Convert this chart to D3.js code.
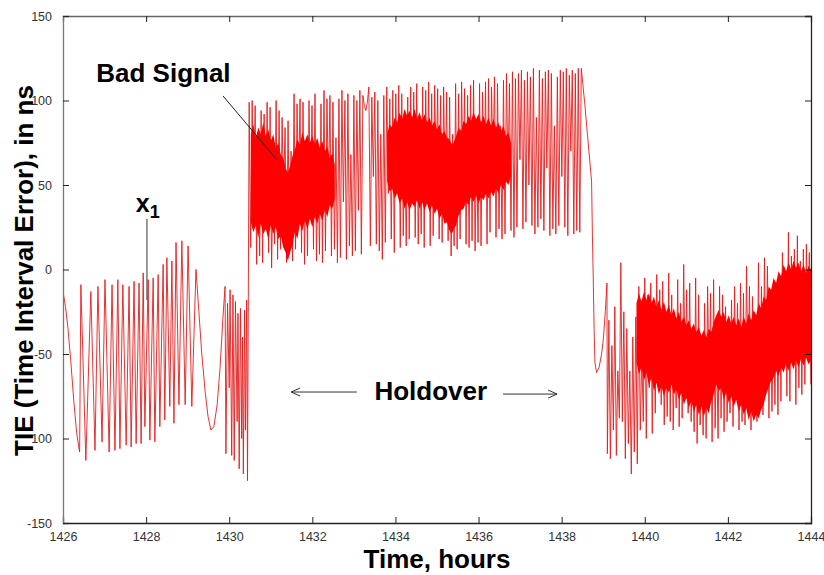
<!DOCTYPE html>
<html><head><meta charset="utf-8">
<script src="https://cdn.jsdelivr.net/npm/d3@7"></script>
<style>body{margin:0;background:#fff}</style>
</head><body><svg id="c" width="824" height="575"></svg>
<script>
// ---------------- data ----------------
const xTicks = [1426,1428,1430,1432,1434,1436,1438,1440,1442,1444];
const yTicks = [-150,-100,-50,0,50,100,150];
const yTickLabels = ["-150","100","-50","0","50","100","150"];

// locked segment (irregular spikes)
const seg1Times = [1426.00,1426.06,1426.12,1426.19,1426.26,1426.33,1426.40,
 1426.43,1426.55,1426.67,1426.77,1426.84,1426.94,
 1427.01,1427.11,1427.18,1427.25,1427.32,1427.37,1427.44,1427.52,1427.59,1427.64,1427.71,1427.76,1427.83,1427.88,1427.93,1427.97,
 1428.05,1428.09,1428.17,1428.21,1428.29,1428.33,1428.41,1428.45,1428.50,1428.57,1428.62,1428.67,1428.72,1428.79,1428.86,1428.94,
 1429.01,1429.10,1429.20,
 1429.27,1429.34,1429.42,1429.49,1429.56,1429.63,1429.71,1429.78,1429.85,1429.90,
 1429.92,1429.96,1430.00,1430.02,1430.06,1430.09,1430.12,1430.15,1430.19,1430.21,1430.24,1430.27,1430.30,1430.32,1430.34,1430.37,1430.39,1430.42,1430.44];
const seg1Values = [-13,-22,-35,-55,-78,-97,-108,
 -9,-113,-13,-107,-10,-102,
 -6,-108,-9,-107,-6,-106,-9,-104,-10,-105,-7,-103,-8,-103,-2,-93,
 -6,-101,-5,-102,-3,-93,3,-89,7,-81,5,-91,16,-80,17,-80,
 14,-81,0,
 -25,-50,-72,-87,-95,-93,-80,-58,-28,-10,
 -109,-20,-70,-12,-110,-15,-113,-19,-90,-26,-118,-23,-100,-40,-121,-24,-95,-18,-125];

// holdover segment, uniformly sampled
const holdStart = 1430.48, holdStep = 0.036;
const holdValues = [
 99,13,100,40,97,3,72,8,94,4,
 92,30,99,10,96,1,60,15,100,6,
 94,12,90,45,84,4,88,9,70,5,
 104,12,98,50,101,10,99,3,75,8,
 100,35,97,12,104,5,65,9,98,4,
 106,11,101,45,103,8,99,12,78,4,
 101,7,106,40,100,6,104,14,68,8,
 103,11,100,35,106,9,103,97,94,99,
 108,14,102,55,105,15,100,11,80,6,
 103,16,108,45,101,18,106,10,104,50,
 109,13,104,20,75,14,102,18,108,40,
 105,19,110,15,70,21,108,13,106,45,
 111,14,104,20,109,55,107,18,103,16,
 108,40,105,17,102,8,80,14,110,12,
 104,18,111,50,107,15,103,13,109,17,
 112,11,70,16,110,14,105,45,111,15,
 113,22,108,60,114,19,110,24,85,18,
 112,21,116,55,110,23,117,19,113,25,
 116,65,118,24,112,28,117,50,114,26,
 119,21,90,25,118,30,113,23,117,60,
 118,20,116,24,85,21,114,26,118,55,
 117,25,119,20,115,70,118,21,116,23,
 119,22,119];

// drop at the end of holdover
const dropTimes  = [1438.56,1438.62,1438.67,1438.72,1438.74,1438.76,1438.78,1438.80,1438.84,1438.90,1438.96,1439.00,1439.05,1439.09];
const dropValues = [97,80,66,52,20,-5,-35,-55,-61,-58,-50,-42,-25,-8];

// re-locked segment, uniformly sampled
const endStart = 1439.10, endStep = 0.036;
const endValues = [
 -109,-30,-112,-45,-95,-22,-110,-60,-88,4,
 -90,-25,-112,-35,-103,-60,-121,-40,-108,-28,
 -115,-10,-95,-50,-90,-5,-100,-15,-70,-8,
 -97,-20,-85,-3,-60,-12,-80,-7,-92,-40,
 -87,-2,-90,-15,-95,-45,-82,-6,-93,-20,
 -88,3,-65,-12,-85,-8,-90,-50,-96,-5,
 -103,-15,-92,-40,-98,-20,-100,-10,-70,-14,
 -102,-6,-94,-45,-100,-10,-88,-15,-96,-22,
 -90,-50,-85,-18,-93,-10,-65,-20,-95,-8,
 -90,-14,-92,2,-60,-10,-95,-16,-84,-40,
 -90,4,-82,-10,-86,7,-55,2,-88,-12,
 -84,-30,-80,-15,-86,-3,-78,10,-50,-5,
 -75,22,-78,8,-40,12,-80,20,-70,5,
 -74,12,-68,15,-30,10,-68];

// dense cores (upper / lower edge of the solid band)
const coreATimes  = [1430.52,1430.58,1430.64,1430.70,1430.76,1430.82,1430.88,1430.94,1431.00,1431.06,1431.12,1431.18,1431.24,1431.30,1431.36,1431.41,1431.46,1431.52,1431.58,1431.64,1431.70,1431.76,1431.82,1431.88,1431.94,1432.00,1432.06,1432.12,1432.18,1432.24,1432.30,1432.36,1432.42,1432.48,1432.54];
const coreATop    = [80,86,78,84,80,87,79,83,76,80,72,75,68,66,60,57,61,67,71,77,74,81,76,80,75,79,74,78,72,76,70,73,66,69,62];
const coreABottom = [28,22,26,19,27,21,24,18,26,21,25,18,20,13,10,5,10,14,22,18,27,23,29,24,30,25,31,27,33,29,35,31,38,36,42];

const coreBTimes  = [1433.80,1433.86,1433.92,1433.98,1434.04,1434.10,1434.16,1434.22,1434.28,1434.34,1434.40,1434.46,1434.52,1434.58,1434.64,1434.70,1434.76,1434.82,1434.88,1434.94,1435.00,1435.06,1435.12,1435.18,1435.24,1435.30,1435.36,1435.40,1435.46,1435.52,1435.58,1435.64,1435.70,1435.76,1435.82,1435.88,1435.94,1436.00,1436.06,1436.12,1436.18,1436.24,1436.30,1436.36,1436.42,1436.48,1436.54,1436.60,1436.66,1436.72,1436.78];
const coreBTop    = [80,86,84,90,87,93,89,95,91,94,90,95,89,93,88,92,87,90,85,88,83,86,80,82,78,77,74,75,79,84,82,88,86,91,88,93,89,92,87,91,86,90,85,89,84,87,82,85,79,81,75];
const coreBBottom = [52,46,48,42,45,39,42,36,40,35,39,37,41,36,40,35,39,34,38,33,36,30,33,27,28,23,21,24,26,32,35,36,40,38,43,40,44,39,43,41,45,42,46,43,48,45,50,47,52,50,55];

const coreCTimes  = [1439.80,1439.86,1439.92,1439.98,1440.04,1440.10,1440.16,1440.22,1440.28,1440.34,1440.40,1440.46,1440.52,1440.58,1440.64,1440.70,1440.76,1440.82,1440.88,1440.94,1441.00,1441.06,1441.12,1441.18,1441.24,1441.30,1441.36,1441.42,1441.48,1441.54,1441.60,1441.66,1441.72,1441.78,1441.84,1441.90,1441.96,1442.02,1442.08,1442.14,1442.20,1442.26,1442.32,1442.38,1442.44,1442.50,1442.56,1442.62,1442.68,1442.74,1442.80,1442.86,1442.92,1442.98,1443.04,1443.10,1443.16,1443.22,1443.28,1443.34,1443.40,1443.46,1443.52,1443.58,1443.64,1443.70,1443.76,1443.82,1443.88,1443.94,1444.00];
const coreCTop    = [-20,-14,-19,-13,-18,-14,-20,-16,-22,-18,-24,-19,-25,-21,-27,-23,-29,-25,-31,-28,-33,-30,-35,-32,-37,-34,-39,-36,-40,-35,-37,-31,-27,-24,-28,-25,-31,-27,-32,-28,-33,-29,-34,-28,-32,-26,-30,-24,-27,-20,-23,-16,-18,-10,-12,-5,-8,-1,-4,3,-1,4,0,5,1,4,-1,3,-2,2,0];
const coreCBottom = [-55,-62,-58,-66,-61,-69,-64,-72,-67,-74,-69,-75,-70,-73,-68,-74,-71,-77,-73,-80,-76,-82,-78,-84,-80,-86,-81,-87,-82,-85,-78,-74,-68,-72,-70,-77,-73,-79,-75,-81,-77,-84,-80,-86,-82,-89,-84,-90,-86,-88,-83,-80,-74,-70,-66,-64,-60,-63,-58,-61,-56,-60,-55,-59,-54,-58,-53,-57,-52,-56,-54];

// ---------------- drawing ----------------
const svg = d3.select("#c");
const L = 63, R = 811, T = 16, B = 523;
const x = d3.scaleLinear().domain([1426,1444]).range([L,R]);
const y = d3.scaleLinear().domain([-150,150]).range([B,T]);

const pts = [];
seg1Times.forEach((t,i)=>pts.push([t, seg1Values[i]]));
holdValues.forEach((v,i)=>pts.push([holdStart + i*holdStep, v]));
dropTimes.forEach((t,i)=>pts.push([t, dropValues[i]]));
endValues.forEach((v,i)=>pts.push([endStart + i*endStep, v]));

svg.append("clipPath").attr("id","clip").append("rect")
  .attr("x",L).attr("y",T).attr("width",R-L).attr("height",B-T);

const g = svg.append("g").attr("clip-path","url(#clip)");
g.append("path").datum(pts)
  .attr("d", d3.line().x(d=>x(d[0])).y(d=>y(d[1])))
  .attr("fill","none").attr("stroke","#e41c1c").attr("stroke-width",0.9);

const area = d3.area().x(d=>x(d[0])).y0(d=>y(d[2])).y1(d=>y(d[1]));
[[coreATimes,coreATop,coreABottom],[coreBTimes,coreBTop,coreBBottom],[coreCTimes,coreCTop,coreCBottom]]
 .forEach(([ts,tp,bt])=>{
   g.append("path").datum(ts.map((t,i)=>[t,tp[i],bt[i]]))
    .attr("d", area).attr("fill","#ff0000").attr("stroke","none");
 });

// axes
const font = "Liberation Sans, Arial, sans-serif";
const ax = svg.append("g");
const axBottom = ax.append("g").attr("transform",`translate(0,${B})`)
  .call(d3.axisBottom(x).tickValues(xTicks).tickSize(-6).tickPadding(9).tickFormat(d3.format("d")));
const axTop = ax.append("g").attr("transform",`translate(0,${T})`)
  .call(d3.axisTop(x).tickValues(xTicks).tickSize(-6).tickFormat(""));
const axLeft = ax.append("g").attr("transform",`translate(${L},0)`)
  .call(d3.axisLeft(y).tickValues(yTicks).tickSize(-6).tickPadding(11).tickFormat((d,i)=>yTickLabels[i]));
const axRight = ax.append("g").attr("transform",`translate(${R},0)`)
  .call(d3.axisRight(y).tickValues(yTicks).tickSize(-6).tickFormat(""));
[axBottom,axTop,axLeft,axRight].forEach(a=>{
  a.select(".domain").attr("stroke","#222").attr("stroke-width",1.3);
  a.selectAll(".tick line").attr("stroke","#222");
  a.selectAll("text").attr("font-family",font).attr("font-size",12.5).attr("fill","#333");
});
axLeft.select(".domain").attr("stroke","#777");
axTop.select(".domain").attr("stroke","#666");

// axis titles
svg.append("text").attr("x",(L+R)/2).attr("y",568).attr("text-anchor","middle")
  .attr("font-family",font).attr("font-weight","bold").attr("font-size",26).text("Time, hours");
svg.append("text").attr("transform",`translate(33,${(T+B)/2+1}) rotate(-90)`).attr("text-anchor","middle")
  .attr("font-family",font).attr("font-weight","bold").attr("font-size",26).text("TIE (Time Interval Error), in ns");

// annotations
const ann = svg.append("g").attr("font-family",font).attr("font-weight","bold").attr("fill","#000");
ann.append("text").attr("x",x(1426.8)).attr("y",y(110.7)).attr("font-size",26).text("Bad Signal");
svg.append("line").attr("x1",x(1429.85)).attr("y1",y(102.7)).attr("x2",x(1431.15)).attr("y2",y(64.8))
  .attr("stroke","#222").attr("stroke-width",1);

const xl = ann.append("text").attr("x",x(1427.75)).attr("y",y(34)).attr("font-size",25);
xl.append("tspan").text("x");
xl.append("tspan").attr("font-size",18).attr("dy",6).text("1");
svg.append("line").attr("x1",x(1428.02)).attr("y1",y(30)).attr("x2",x(1428.02)).attr("y2",y(-18))
  .attr("stroke","#555").attr("stroke-width",1.2);

ann.append("text").attr("x",x(1434.85)).attr("y",y(-77)).attr("text-anchor","middle").attr("font-size",26).text("Holdover");
const arr = svg.append("g").attr("stroke","#333").attr("stroke-width",1).attr("fill","none");
const ya = y(-72.5), yb = y(-73.7);
arr.append("line").attr("x1",x(1433.07)).attr("y1",ya).attr("x2",x(1431.49)).attr("y2",ya);
arr.append("path").attr("d",`M${x(1431.49)+9},${ya-4}L${x(1431.49)},${ya}L${x(1431.49)+9},${ya+4}`);
arr.append("line").attr("x1",x(1436.59)).attr("y1",yb).attr("x2",x(1437.89)).attr("y2",yb);
arr.append("path").attr("d",`M${x(1437.89)-9},${yb-4}L${x(1437.89)},${yb}L${x(1437.89)-9},${yb+4}`);
</script></body></html>
